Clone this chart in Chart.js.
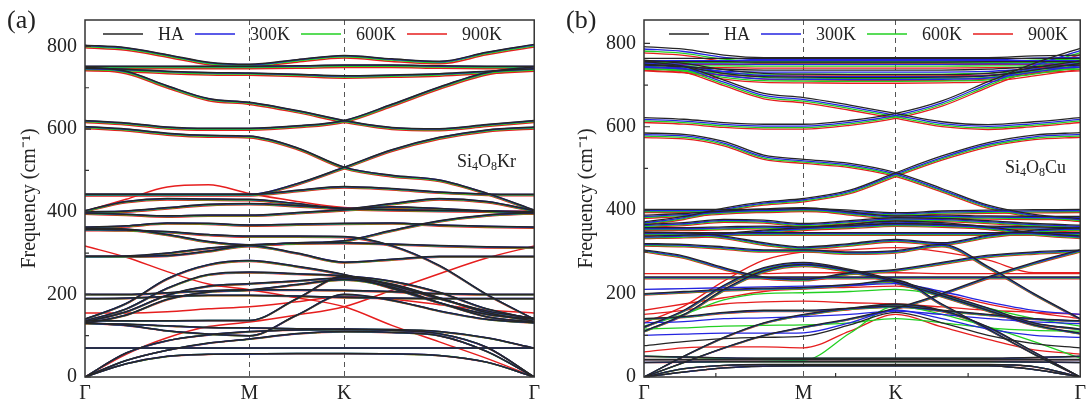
<!DOCTYPE html>
<html>
<head>
<meta charset="utf-8">
<script src="https://cdn.jsdelivr.net/npm/chart.js@4/dist/chart.umd.min.js"></script>
<style>
  html, body { margin: 0; padding: 0; background: #fff; }
  body { width: 1091px; height: 406px; position: relative; overflow: hidden; font-family: 'Liberation Serif', 'DejaVu Serif', serif; color: #222; }
  .panel { position: absolute; top: 0; height: 406px; }
  #wrapA { left: 0; width: 545px; }
  #wrapB { left: 545px; width: 546px; }
  .tag { position: absolute; top: 5px; font-size: 26px; }
  .formula { position: absolute; font-size: 18px; }
  .formula sub { font-size: 12px; vertical-align: -3px; }
</style>
</head>
<body>
<div class="panel" id="wrapA"><canvas id="chartA" width="545" height="406"></canvas></div>
<div class="panel" id="wrapB"><canvas id="chartB" width="546" height="406"></canvas></div>
<div class="tag" style="left:7px">(a)</div>
<div class="tag" style="left:566px">(b)</div>
<div class="formula" style="left:457px; top:151px">Si<sub>4</sub>O<sub>8</sub>Kr</div>
<div class="formula" style="left:1005px; top:157px">Si<sub>4</sub>O<sub>8</sub>Cu</div>
<script>
// path Γ-M-K-Γ (hexagonal, |ΓM| = 1)
const kPath = [0, 0.25, 0.5, 0.75, 1, 1.289, 1.577, 1.866, 2.155, 2.443, 2.732];
const kTicks = [0, 1, 1.577, 2.732];
const kLabels = ['Γ', 'M', 'K', 'Γ'];
const temps = ['HA', '300K', '600K', '900K'];
const yTicks = [0, 100, 200, 300, 400, 500, 600, 700, 800];

// frequency ratio of each temperature to HA
const softA = [1, 0.999, 0.996, 0.992];
const softB = [1, 0.993, 0.987, 0.981];

// Si4O8Kr bands (cm-1) at the kPath points, seen in all four curves
const bandsA = [
  [803, 797, 780, 762, 757, 768, 778, 770, 764, 786, 805],
  [752, 752, 752, 752, 752, 753, 755, 755, 753, 752, 752],
  [747, 745, 740, 737, 736, 733, 729, 731, 734, 740, 746],
  [750, 740, 705, 674, 665, 645, 621, 604, 601, 611, 621],
  [621, 615, 605, 602, 602, 608, 621, 660, 702, 737, 751],
  [606, 600, 590, 585, 583, 555, 508, 488, 477, 445, 404],
  [442, 442, 442, 442, 442, 468, 508, 550, 580, 598, 605],
  [442, 442, 442, 442, 442, 452, 461, 456, 448, 443, 442],
  [403, 425, 432, 431, 430, 420, 408, 420, 432, 425, 403],
  [400, 402, 410, 418, 420, 415, 408, 405, 403, 402, 400],
  [397, 394, 390, 392, 392, 398, 405, 412, 408, 402, 397],
  [363, 366, 373, 372, 368, 370, 372, 373, 368, 365, 363],
  [357, 356, 352, 345, 341, 341, 340, 318, 270, 200, 140],
  [360, 358, 345, 328, 320, 325, 330, 355, 378, 392, 398],
  [292, 292, 294, 305, 318, 300, 278, 285, 292, 292, 292],
  [292, 293, 300, 312, 320, 324, 325, 322, 318, 315, 314],
  [140, 178, 238, 272, 282, 268, 248, 215, 180, 152, 140],
  [136, 165, 215, 248, 254, 250, 245, 232, 205, 165, 140],
  [133, 158, 198, 220, 226, 233, 240, 225, 192, 156, 135],
  [130, 150, 188, 206, 211, 224, 236, 218, 180, 146, 133],
  [190, 191, 195, 198, 198, 196, 193, 191, 190, 190, 190],
  [200, 200, 204, 209, 211, 211, 210, 207, 202, 200, 200],
  [136, 136, 136, 137, 137, 190, 244, 222, 190, 160, 142],
  [131, 125, 112, 104, 100, 150, 200, 186, 160, 140, 131],
  [130, 128, 124, 120, 119, 117, 116, 115, 110, 95, 70],
  [0, 40, 65, 82, 92, 105, 110, 108, 100, 62, 0],
  [0, 58, 88, 102, 110, 114, 115, 113, 105, 72, 0],
  [0, 32, 50, 55, 56, 57, 57, 56, 52, 36, 0],
  [70, 70, 70, 70, 70, 70, 70, 70, 70, 70, 70]
];
// Si4O8Kr lines that show in one curve only
const onlyHAA = [];
const only300A = [];
const only600A = [];
const only900A = [
  [401, 430, 460, 465, 444, 425, 410, 405, 403, 402, 401],
  [317, 290, 255, 225, 211, 192, 170, 125, 85, 45, 0],
  [0, 55, 95, 122, 133, 150, 170, 210, 250, 288, 317],
  [155, 155, 158, 165, 170, 182, 195, 188, 175, 162, 155]
];

// Si4O8Cu bands (cm-1) at the kPath points, seen in all four curves
const bandsB = [
  [792, 786, 772, 766, 766, 766, 766, 766, 766, 770, 772],
  [764, 764, 764, 764, 764, 764, 764, 764, 764, 764, 764],
  [756, 756, 756, 755, 755, 755, 755, 755, 756, 756, 756],
  [748, 744, 738, 736, 736, 736, 736, 736, 738, 744, 748],
  [760, 752, 737, 728, 726, 725, 725, 725, 728, 742, 758],
  [750, 744, 728, 720, 719, 718, 718, 719, 722, 736, 752],
  [756, 745, 712, 680, 670, 652, 632, 612, 605, 612, 622],
  [622, 618, 610, 606, 606, 615, 632, 662, 708, 752, 788],
  [585, 582, 565, 532, 522, 512, 490, 452, 412, 390, 380],
  [372, 385, 405, 420, 428, 448, 490, 530, 562, 580, 586],
  [402, 402, 402, 402, 404, 400, 394, 398, 400, 401, 402],
  [388, 392, 398, 403, 406, 396, 386, 388, 386, 385, 385],
  [366, 370, 378, 376, 368, 375, 382, 380, 375, 368, 364],
  [358, 358, 360, 362, 360, 363, 368, 366, 362, 360, 357],
  [346, 346, 346, 346, 346, 346, 346, 346, 346, 346, 346],
  [338, 340, 344, 352, 358, 366, 374, 370, 360, 346, 338],
  [348, 346, 338, 322, 312, 320, 330, 322, 340, 352, 358],
  [320, 318, 312, 305, 305, 300, 303, 318, 265, 200, 140],
  [305, 290, 262, 240, 235, 250, 258, 275, 292, 300, 305],
  [120, 160, 220, 262, 275, 258, 232, 200, 165, 130, 115],
  [110, 150, 210, 255, 270, 255, 228, 195, 160, 125, 105],
  [240, 240, 240, 240, 240, 240, 240, 240, 240, 240, 240],
  [0, 35, 70, 100, 120, 140, 165, 200, 240, 275, 305],
  [200, 205, 210, 213, 215, 222, 232, 175, 115, 55, 0],
  [140, 145, 155, 160, 160, 165, 170, 160, 150, 140, 135],
  [50, 48, 46, 45, 45, 45, 45, 45, 45, 47, 50],
  [42, 42, 42, 42, 42, 42, 42, 42, 42, 42, 42],
  [35, 36, 37, 37, 37, 37, 37, 37, 37, 36, 35],
  [0, 20, 28, 30, 30, 30, 30, 30, 30, 25, 0],
  [0, 12, 22, 26, 27, 27, 27, 27, 27, 18, 0],
  [0, 50, 95, 130, 150, 165, 175, 160, 120, 60, 0]
];
// Si4O8Cu lines that show in one curve only
const onlyHAB = [
  [75, 85, 92, 95, 98, 125, 155, 130, 100, 80, 70]
];
const only300B = [
  [100, 103, 105, 105, 106, 130, 160, 140, 115, 100, 95],
  [130, 133, 140, 142, 145, 150, 158, 150, 140, 132, 128],
  [210, 212, 214, 216, 218, 220, 224, 205, 180, 160, 150]
];
const only600B = [
  [115, 118, 122, 124, 125, 130, 140, 130, 118, 112, 110],
  [50, 48, 45, 42, 40, 105, 170, 150, 120, 85, 45],
  [122, 150, 185, 200, 202, 205, 210, 195, 165, 140, 122]
];
const only900B = [
  [60, 70, 72, 72, 70, 110, 150, 120, 90, 65, 55],
  [160, 175, 190, 205, 212, 215, 218, 200, 175, 155, 140],
  [150, 160, 175, 180, 182, 178, 175, 168, 160, 155, 150],
  [248, 248, 248, 248, 250, 250, 250, 248, 248, 248, 248],
  [130, 170, 230, 280, 300, 305, 310, 300, 280, 250, 250]
];
const minorXB = [0.45, 1.2, 2.03];

const lineColors = ['#262626', '#2424e0', '#22d022', '#e61e1e'];
const serif = "'Liberation Serif', 'Times New Roman', serif";

function buildDatasets(bands, soft, onlyByTemp, width) {
  const sets = [];
  temps.forEach((t, ti) => {
    const rows = bands.map(b => b.map(v => v * soft[ti])).concat(onlyByTemp[ti]);
    rows.forEach(band => {
      sets.push({
        label: t,
        data: band.map((v, i) => ({ x: kPath[i], y: v })),
        borderColor: lineColors[ti],
        borderWidth: width,
        order: ti
      });
    });
  });
  return sets;
}

// frame, inward ticks and the in-frame legend
const panelDecor = {
  id: 'panelDecor',
  afterDraw(chart, args, opts) {
    const { ctx, chartArea: a, scales: { x, y } } = chart;
    ctx.save();
    ctx.strokeStyle = '#333';
    ctx.lineWidth = 1.5;
    ctx.strokeRect(a.left, a.top, a.right - a.left, a.bottom - a.top);
    ctx.lineWidth = 1.2;
    ctx.beginPath();
    yTicks.forEach(v => {
      const py = y.getPixelForValue(v);
      ctx.moveTo(a.left, py);
      ctx.lineTo(a.left + (v % 200 === 0 ? 6 : 4), py);
    });
    (opts.minorX || []).forEach(v => {
      const px = x.getPixelForValue(v);
      ctx.moveTo(px, a.bottom);
      ctx.lineTo(px, a.bottom - 4);
    });
    ctx.stroke();

    ctx.font = '18px ' + serif;
    ctx.textBaseline = 'middle';
    ctx.fillStyle = '#222';
    let lx = a.left + opts.legendStart;
    const ly = a.top + 14;
    temps.forEach((t, ti) => {
      ctx.strokeStyle = lineColors[ti];
      ctx.lineWidth = 1.5;
      ctx.beginPath();
      ctx.moveTo(lx, ly);
      ctx.lineTo(lx + 40, ly);
      ctx.stroke();
      ctx.fillText(t, lx + 55, ly + 1);
      lx += 55 + ctx.measureText(t).width + opts.legendGap;
    });
    ctx.restore();
  }
};

function makeChart(id, bands, soft, onlyByTemp, cfg) {
  return new Chart(document.getElementById(id), {
    type: 'line',
    data: { datasets: buildDatasets(bands, soft, onlyByTemp, cfg.lineWidth) },
    options: {
      responsive: false,
      animation: false,
      devicePixelRatio: 1,
      layout: { padding: { top: cfg.top, right: cfg.right, bottom: 0, left: 0 } },
      elements: {
        point: { radius: 0 },
        line: { cubicInterpolationMode: 'monotone' }
      },
      plugins: {
        legend: { display: false },
        tooltip: { enabled: false },
        panelDecor: { legendStart: cfg.legendStart, legendGap: cfg.legendGap, minorX: cfg.minorX }
      },
      scales: {
        x: {
          type: 'linear',
          min: 0,
          max: kTicks[kTicks.length - 1],
          afterBuildTicks: s => { s.ticks = kTicks.map(v => ({ value: v })); },
          afterFit: s => { s.height = 29; },
          ticks: {
            callback: (v, i) => kLabels[i],
            font: { family: serif, size: 20 },
            color: '#222',
            padding: 5,
            maxRotation: 0
          },
          grid: {
            drawTicks: false,
            lineWidth: 1,
            color: c => (c.tick && (c.tick.value === 1 || c.tick.value === 1.577)) ? '#555' : 'rgba(0,0,0,0)'
          },
          border: { display: false, dash: [5, 4] }
        },
        y: {
          min: 0,
          max: cfg.ymax,
          afterBuildTicks: s => { s.ticks = yTicks.map(v => ({ value: v })); },
          afterFit: s => { s.width = cfg.yWidth; },
          ticks: {
            callback: v => (v % 200 === 0 ? v : ''),
            font: { family: serif, size: 20 },
            color: '#222',
            padding: 8
          },
          grid: { display: false, drawTicks: false },
          border: { display: false },
          title: {
            display: true,
            text: 'Frequency (cm⁻¹)',
            font: { family: serif, size: 20 },
            color: '#222',
            padding: { top: cfg.titlePad, bottom: 0 }
          }
        }
      }
    },
    plugins: [panelDecor]
  });
}

makeChart('chartA', bandsA, softA, [onlyHAA, only300A, only600A, only900A], {
  top: 13, right: 10, yWidth: 85, ymax: 864, titlePad: 18, lineWidth: 1.5,
  legendStart: 18, legendGap: 11
});
makeChart('chartB', bandsB, softB, [onlyHAB, only300B, only600B, only900B], {
  top: 10, right: 4, yWidth: 99, ymax: 856, titlePad: 30, lineWidth: 1.3,
  legendStart: 25, legendGap: 11, minorX: minorXB
});
</script>
</body>
</html>
